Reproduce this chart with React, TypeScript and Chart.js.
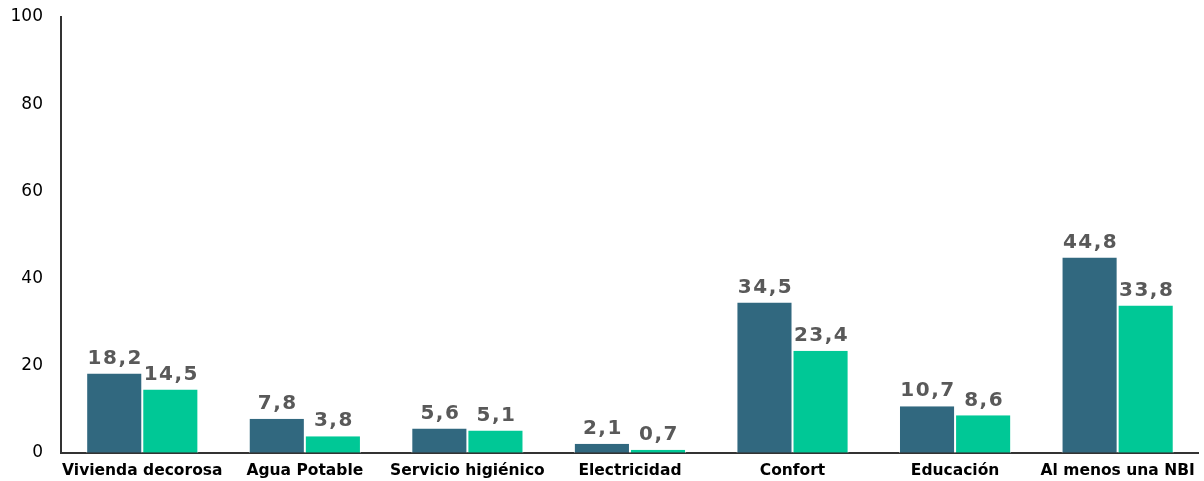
import React, { useEffect, useRef } from "react";
import { Chart, registerables } from "chart.js";

Chart.register(...registerables);

const categories = [
  "Vivienda decorosa",
  "Agua Potable",
  "Servicio higiénico",
  "Electricidad",
  "Confort",
  "Educación",
  "Al menos una NBI",
];
const seriesA = [18.2, 7.8, 5.6, 2.1, 34.5, 10.7, 44.8];
const seriesB = [14.5, 3.8, 5.1, 0.7, 23.4, 8.6, 33.8];
const yTicks = [0, 20, 40, 60, 80, 100];

const labelPlugin = {
  id: "valueLabels",
  afterDatasetsDraw(chart: any) {
    const ctx = chart.ctx;
    ctx.save();
    ctx.font = "bold 20px 'DejaVu Sans'";
    ctx.fillStyle = "#595959";
    ctx.textAlign = "center";
    ctx.textBaseline = "bottom";
    try { (ctx as any).letterSpacing = "1.5px"; } catch (e) {}
    chart.data.datasets.forEach((ds: any, di: number) => {
      const meta = chart.getDatasetMeta(di);
      meta.data.forEach((bar: any, i: number) => {
        const v = ds.data[i];
        const txt = v.toFixed(1).replace(".", ",");
        ctx.fillText(txt, bar.x + 1, bar.y - 5);
      });
    });
    ctx.restore();
  },
};

export default function App() {
  const ref = useRef<HTMLCanvasElement>(null);
  useEffect(() => {
    document.body.style.margin = "0";
    const chart = new Chart(ref.current!, {
      type: "bar",
      data: {
        labels: categories,
        datasets: [
          {
            data: seriesA,
            backgroundColor: "#31687F",
            borderColor: "#ffffff",
            borderWidth: { left: 1, right: 1, top: 0, bottom: 0 } as any,
            categoryPercentage: 0.69,
            barPercentage: 1,
          },
          {
            data: seriesB,
            backgroundColor: "#00C896",
            borderColor: "#ffffff",
            borderWidth: { left: 1, right: 1, top: 0, bottom: 0 } as any,
            categoryPercentage: 0.69,
            barPercentage: 1,
          },
        ],
      },
      options: {
        animation: false,
        responsive: false,
        layout: { padding: { top: 0, right: 4, left: 0, bottom: 0 } },
        plugins: { legend: { display: false }, tooltip: { enabled: false } },
        scales: {
          x: {
            grid: { display: false, drawTicks: false },
            border: { color: "#333333", width: 2 },
            ticks: {
              color: "#000000",
              font: { family: "'DejaVu Sans'", size: 15.5, weight: "bold" },
              padding: 9,
              maxRotation: 0,
              autoSkip: false,
            },
            afterFit: (s: any) => { s.height = 28; s.paddingTop = 0; },
          },
          y: {
            min: 0,
            max: 100,
            afterBuildTicks: (s: any) => { s.ticks = yTicks.map((v) => ({ value: v })); },
            grid: { display: false, drawTicks: false },
            border: { color: "#333333", width: 2 },
            ticks: {
              color: "#000000",
              font: { family: "'DejaVu Sans'", size: 17 },
              padding: 18,
            },
            afterFit: (s: any) => { s.width = 61; s.paddingTop = 17; },
          },
        },
      },
      plugins: [labelPlugin],
    });
    return () => chart.destroy();
  }, []);
  return <canvas ref={ref} width={1204} height={481} style={{ display: "block" }} />;
}
